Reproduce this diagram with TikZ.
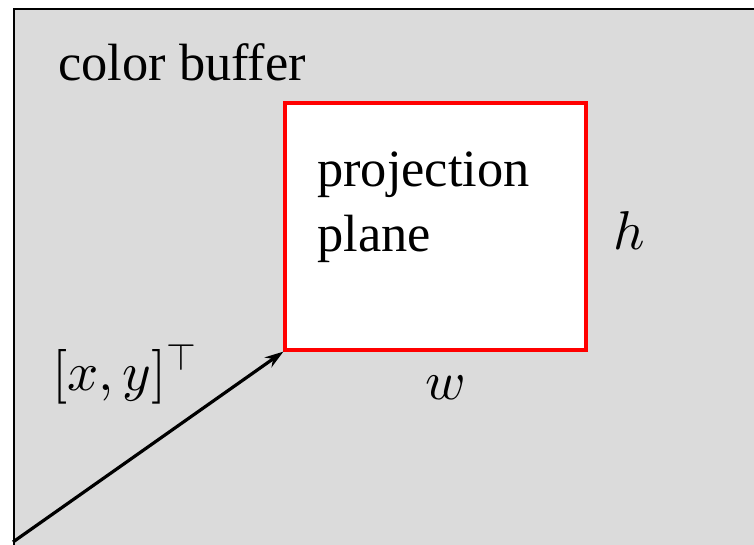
\documentclass[tikz,border=0pt]{standalone}
\usepackage[no-math]{fontspec}
\setmainfont{Liberation Serif}
\DeclareFontShape{OML}{cmm}{m}{it}{<->cmmi10}{}
\DeclareFontShape{OMS}{cmsy}{m}{n}{<->cmsy10}{}
\DeclareFontShape{OT1}{cmr}{m}{n}{<->cmr10}{}
\usetikzlibrary{arrows.meta}
\begin{document}
\begin{tikzpicture}[x=0.75pt,y=-0.75pt,
  lbl/.style={anchor=base west,inner sep=0pt,font=\fontsize{39.3}{49}\selectfont},
  mlbl/.style={anchor=base west,inner sep=0pt,font=\fontsize{41}{49}\selectfont}]
\useasboundingbox (0,0) rectangle (754,544);
\fill[white] (0,0) rectangle (754,544);
\fill[gray!28] (13.5,9) rectangle (756,546);
\draw[line width=1.5pt] (13.5,546) -- (13.5,9) -- (756,9);
\node[draw=red,line width=2.4pt,fill=white,minimum width=301*0.75pt,minimum height=247*0.75pt,inner sep=0pt] (pp) at (435.5,226.5) {};
\coordinate (o) at (13,542);
\draw[line width=2.4pt,-{Stealth[length=14pt,width=9pt]}] (o) -- (pp.south west);
\node[lbl] (cb) at (58,80) {color buffer};
\node[lbl] (pr) at (317,186) {projection};
\node[lbl] (pl) at (317,251) {plane};
\node[mlbl] (h) at (613,249) {$h$};
\node[mlbl] (w) at (425,399) {$w$};
\node[mlbl] (xy) at (52,390) {$[x,y]^\top$};
\end{tikzpicture}
\end{document}
